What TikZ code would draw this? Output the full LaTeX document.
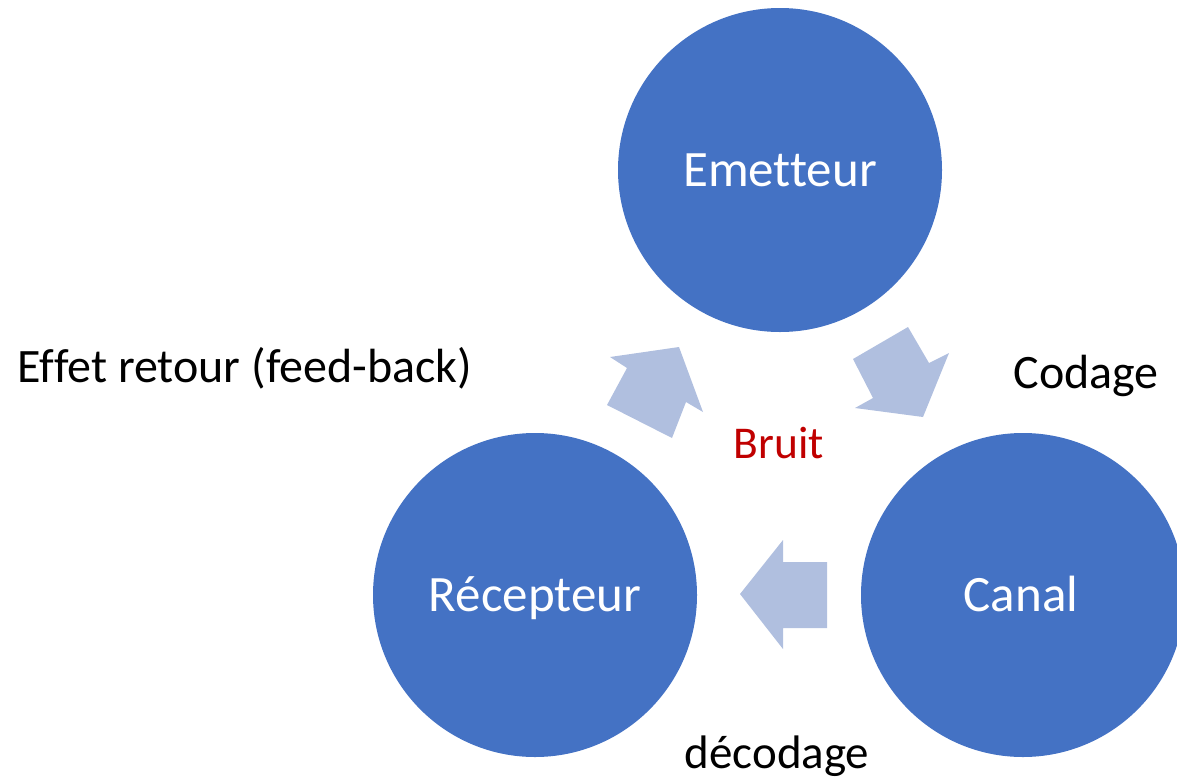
\documentclass[tikz,border=0pt]{standalone}
\usepackage{fontspec}
\setmainfont[Ligatures=NoCommon]{Carlito}
\definecolor{circblue}{HTML}{4472C4}
\definecolor{arrblue}{HTML}{B0BFDF}
\definecolor{bruitred}{HTML}{C00000}
\begin{document}
\begin{tikzpicture}[x=1pt,y=-1pt,
  circ/.style={circle,fill=circblue,draw=none,minimum size=324pt,inner sep=0pt},
  ctext/.style={text=white,font=\fontsize{51}{54}\selectfont,anchor=base},
  label/.style={text=black,font=\fontsize{48}{52}\selectfont,anchor=base},
  blockarrow/.style={fill=arrblue,draw=none}]
\useasboundingbox (0,0) rectangle (1177,782);
\begin{scope}
\clip (0,0) rectangle (1177,782);
\node[circ] (em) at (780,170) {};
\node[circ] (re) at (535,595) {};
\node[circ] (ca) at (1023,595) {};
\end{scope}
\node[ctext] (emt) at (780,186) {Emetteur};
\node[ctext] (ret) at (535,611) {Récepteur};
\node[ctext] (cat) at (1021,611) {Canal};
% arrows
\fill[blockarrow] (610,357) -- (679,347) -- (703,412) -- (686,402) -- (672,438) -- (607,405) -- (627,368) -- cycle;
\fill[blockarrow] (853,359) -- (908,327) -- (929,363) -- (949,353) -- (923,417) -- (855,408) -- (873,398) -- cycle;
\fill[blockarrow] (740,594) -- (783,540) -- (783,562) -- (827,562) -- (827,628) -- (783,628) -- (783,649) -- cycle;
\node[label] (fb) at (245,382) {Effet retour (feed-back)};
\node[label] (cod) at (1086,388) {Codage};
\node[label,font=\fontsize{47}{52}\selectfont] (dec) at (777,768) {décodage};
\node[label,text=bruitred,font=\fontsize{45.5}{48}\selectfont] (br) at (779,458) {Bruit};
\end{tikzpicture}
\end{document}
